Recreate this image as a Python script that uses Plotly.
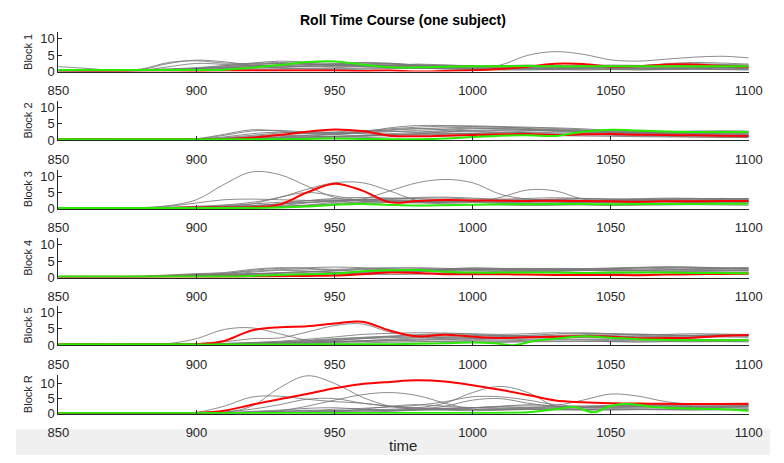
import plotly.graph_objects as go

# ---------------- data ----------------
TIME = [850, 860, 870, 880, 890, 900, 910, 920, 930, 940, 950, 960, 970,
        980, 990, 1000, 1010, 1020, 1030, 1040, 1050, 1060, 1070, 1080, 1090, 1100]
BLOCKS = ["Block 1", "Block 2", "Block 3", "Block 4", "Block 5", "Block R"]
X_TICKS = [850, 900, 950, 1000, 1050, 1100]
Y_TICKS = [0, 5, 10]

GRAY_1 = [
    [1.5,1.0,0.4,0.6,0.8,1.2,1.8,2.3,2.5,2.2,2.0,1.8,2.0,1.8,1.5,1.5,1.6,1.8,1.5,1.4,1.5,1.6,1.5,1.6,1.5,1.5],
    [0.3,0.3,0.3,0.6,2.5,3.5,3.0,2.0,1.8,1.5,1.6,1.8,1.6,1.5,1.3,1.3,1.4,1.2,1.3,1.2,1.2,1.3,1.2,1.3,1.2,1.2],
    [0.3,0.3,0.4,0.8,2.8,3.3,2.6,2.5,2.8,2.5,2.2,2.0,1.8,2.0,1.6,1.4,1.3,1.0,1.0,1.1,1.2,1.0,1.1,1.0,1.1,1.0],
    [0.3,0.3,0.3,0.5,0.8,1.0,1.5,2.0,2.5,2.3,2.0,2.2,2.5,2.0,1.5,1.5,2.0,5.0,6.1,5.3,3.6,3.2,3.8,4.4,4.7,4.2],
    [0.2,0.2,0.3,0.4,0.6,1.0,1.8,2.6,3.2,2.9,2.5,2.8,2.6,2.0,1.8,1.6,1.5,1.7,1.8,1.6,1.5,1.8,2.2,2.4,2.2,2.0],
    [0.3,0.3,0.3,0.3,0.5,0.8,1.2,1.5,1.8,2.0,2.0,2.3,2.0,1.5,1.2,1.0,0.8,0.8,1.0,1.2,1.0,0.9,1.0,1.2,1.3,1.2],
    [0.5,0.4,0.4,0.5,0.5,0.6,1.0,1.5,1.2,1.0,1.2,1.5,1.3,1.2,1.0,0.9,0.8,0.7,0.6,0.7,0.8,0.6,0.7,0.8,0.7,0.6],
    [0.3,0.3,0.3,0.3,0.4,0.5,0.7,1.0,1.3,1.6,1.8,1.5,1.3,1.5,1.8,1.5,1.2,1.0,1.2,1.4,1.6,1.8,2.4,2.8,2.6,2.3],
    [0.2,0.2,0.2,0.3,0.3,0.4,0.8,1.2,1.0,0.8,0.6,0.7,0.9,1.0,0.8,0.6,0.5,0.5,0.6,0.5,0.6,0.5,0.6,0.7,0.6,0.5],
    [0.3,0.3,0.3,0.4,1.5,2.5,2.2,1.8,1.5,1.8,2.4,2.6,2.3,2.0,2.0,1.8,1.8,2.0,1.8,1.6,1.4,1.5,1.6,1.8,1.7,1.6],
    [0.2,0.2,0.2,0.2,0.3,0.3,0.5,0.6,0.7,0.8,0.9,1.0,1.1,1.0,0.9,0.8,0.9,1.0,1.0,0.9,0.8,0.9,1.0,0.9,1.0,0.9],
    [0.4,0.3,0.3,0.4,0.6,0.9,1.3,1.8,2.1,2.4,1.9,1.6,1.9,2.3,2.0,1.7,1.5,1.4,1.6,1.9,2.0,1.9,1.7,1.8,2.0,1.9],
]
RED_1 = [0.3,0.2,0.1,0.3,0.3,0.2,0.3,0.3,0.3,0.3,0.3,0.2,0.3,0.0,0.2,0.4,0.8,1.5,2.4,2.3,1.5,1.6,2.2,2.2,1.8,1.5]
GREEN_1 = [0.5,0.5,0.5,0.5,0.5,0.5,0.6,1.2,2.0,2.9,3.1,2.2,1.3,1.3,1.5,1.6,1.6,1.7,1.6,1.6,1.6,1.6,1.6,1.6,1.6,1.6]

GRAY_2 = [
    [0.3,0.3,0.3,0.3,0.3,0.4,1.5,2.8,3.0,2.5,2.2,2.8,3.5,4.0,4.3,4.2,4.0,3.8,3.6,3.2,3.0,2.8,2.7,2.8,2.9,2.8],
    [0.3,0.3,0.3,0.3,0.3,0.5,1.8,3.2,2.8,2.0,1.8,2.5,3.8,4.5,4.5,4.4,4.2,4.0,3.8,3.5,3.0,2.8,2.6,2.5,2.4,2.5],
    [0.2,0.2,0.2,0.2,0.3,0.4,1.0,2.0,2.5,2.3,2.0,2.2,3.0,3.5,3.8,4.0,4.0,3.6,3.2,3.0,2.8,2.5,2.3,2.2,2.0,2.0],
    [0.3,0.3,0.3,0.3,0.3,0.3,0.6,1.2,1.8,2.0,2.5,3.0,2.8,2.5,3.0,3.5,3.6,3.4,3.0,2.6,2.4,2.2,2.0,1.8,1.7,1.6],
    [0.2,0.2,0.2,0.2,0.2,0.3,0.5,0.8,1.0,1.5,2.0,2.5,3.2,3.6,3.2,2.8,2.5,2.8,3.2,3.0,2.6,2.3,2.1,2.0,1.9,1.8],
    [0.3,0.3,0.3,0.3,0.3,0.3,0.4,0.6,0.8,1.0,1.2,1.5,2.0,2.4,2.6,2.8,3.0,3.2,3.0,2.7,2.5,2.3,2.5,2.7,2.6,2.4],
    [0.2,0.2,0.2,0.2,0.3,0.3,0.5,1.0,1.5,1.3,1.0,1.2,1.6,2.0,2.2,2.0,1.8,1.6,1.5,1.6,1.8,1.6,1.4,1.3,1.2,1.2],
    [0.3,0.3,0.3,0.3,0.3,0.3,0.3,0.4,0.6,0.9,1.2,1.4,1.5,1.8,2.0,2.2,2.4,2.3,2.0,1.8,1.5,1.3,1.2,1.0,0.9,0.8],
    [0.2,0.2,0.2,0.2,0.2,0.2,0.3,0.4,0.5,0.7,1.0,1.3,1.6,2.0,2.5,3.0,3.2,3.0,2.7,2.4,2.2,2.0,1.9,2.1,2.3,2.2],
    [0.3,0.3,0.3,0.3,0.3,0.4,0.8,1.5,2.2,2.6,2.4,2.0,1.8,1.6,1.8,2.0,2.2,2.4,2.3,2.1,1.9,1.8,1.7,1.6,1.5,1.5],
    [0.2,0.2,0.2,0.2,0.2,0.2,0.3,0.3,0.4,0.5,0.6,0.8,1.0,1.2,1.3,1.4,1.5,1.5,1.4,1.3,1.2,1.1,1.0,1.0,0.9,0.9],
    [0.3,0.3,0.3,0.3,0.3,0.3,0.5,0.7,1.0,1.3,1.7,2.2,2.6,3.0,3.4,3.7,3.5,3.2,2.9,2.6,2.4,2.3,2.2,2.1,2.2,2.3],
]
RED_2 = [0.3,0.4,0.3,0.3,0.3,0.3,0.4,0.8,1.6,2.6,3.3,2.8,1.4,1.2,1.4,1.6,1.8,1.9,1.6,1.8,1.9,1.7,1.6,1.5,1.4,1.3]
GREEN_2 = [0.3,0.3,0.3,0.3,0.3,0.3,0.3,0.3,0.3,0.4,0.5,0.4,0.3,0.3,0.5,1.0,1.4,1.5,1.3,2.6,3.2,3.0,2.7,2.5,2.5,2.5]

GRAY_3 = [
    [0.3,0.3,0.3,0.4,1.0,2.8,7.5,11.3,10.5,7.0,3.5,2.5,2.8,2.5,2.3,2.5,2.4,2.3,2.5,2.4,2.3,2.5,2.4,2.3,2.4,2.5],
    [0.3,0.3,0.3,0.3,0.5,0.8,1.2,2.0,3.5,6.0,8.0,8.0,5.5,2.5,2.0,2.2,2.0,2.1,2.3,2.2,2.0,2.1,2.2,2.0,2.1,2.2],
    [0.3,0.3,0.3,0.3,0.3,0.5,0.8,1.0,1.5,2.0,2.5,3.0,5.5,8.0,9.0,8.0,4.5,3.0,2.8,2.5,2.6,2.8,2.7,2.6,2.7,2.8],
    [0.3,0.3,0.3,0.3,0.4,0.6,1.0,1.5,2.0,2.5,2.8,2.5,2.3,2.0,1.8,2.0,3.5,5.8,5.5,3.0,2.5,2.6,2.7,2.8,2.9,3.0],
    [0.3,0.3,0.3,0.3,0.8,1.8,2.8,3.0,2.8,2.6,2.5,2.8,3.0,3.2,3.3,3.0,2.8,2.6,2.8,3.0,2.9,3.0,3.1,3.2,3.0,3.1],
    [0.3,0.3,0.3,0.3,0.3,0.5,0.8,1.5,3.5,5.0,4.0,2.5,2.0,1.8,2.0,2.2,2.0,1.8,1.9,2.0,1.9,2.0,2.1,2.0,1.9,2.0],
    [0.3,0.3,0.3,0.3,0.3,0.4,0.5,0.8,1.5,2.5,3.2,3.5,3.3,3.0,2.8,2.6,2.5,2.7,3.0,3.2,3.0,2.8,2.9,3.0,3.2,3.0],
    [0.2,0.2,0.2,0.2,0.3,0.3,0.4,0.6,1.0,1.8,2.5,3.0,2.5,2.0,1.5,1.3,1.5,1.8,1.6,1.4,1.5,1.7,1.6,1.5,1.6,1.7],
    [0.3,0.3,0.3,0.3,0.3,0.3,0.4,0.5,0.8,1.2,2.0,2.8,3.2,3.5,3.6,3.3,3.0,3.2,3.4,3.2,3.0,3.1,3.3,3.2,3.1,3.2],
    [0.3,0.3,0.3,0.3,0.3,0.4,0.6,1.0,1.5,2.0,2.2,2.0,1.2,1.0,1.1,1.3,1.2,1.0,1.1,1.2,1.0,1.1,1.2,1.3,1.2,1.1],
    [0.2,0.2,0.2,0.2,0.2,0.3,0.3,0.4,0.6,1.0,1.6,2.2,2.6,2.4,2.2,2.0,1.8,1.6,1.8,2.0,2.2,2.4,2.2,2.0,2.2,2.4],
    [0.3,0.3,0.3,0.3,0.3,0.3,0.4,0.5,0.7,1.0,1.4,1.8,2.0,2.2,2.3,2.4,2.6,2.8,2.6,2.5,2.6,2.7,2.8,2.6,2.5,2.6],
]
RED_3 = [0.3,0.3,0.2,0.2,0.3,0.4,0.4,0.5,1.3,5.0,7.7,5.6,2.0,2.4,2.7,2.6,2.5,2.4,2.5,2.4,2.3,2.2,2.3,2.3,2.4,2.4]
GREEN_3 = [0.3,0.3,0.3,0.3,0.3,0.3,0.3,0.3,0.4,0.7,1.3,1.5,1.2,1.0,1.1,1.3,1.4,1.4,1.5,1.5,1.4,1.5,1.5,1.5,1.6,1.6]

GRAY_4 = [
    [0.3,0.3,0.3,0.4,0.8,1.2,1.5,2.5,3.0,2.8,2.5,2.8,3.0,2.8,2.6,2.5,2.7,2.8,2.6,2.5,2.7,2.9,3.0,2.8,2.7,2.8],
    [0.3,0.3,0.3,0.3,0.5,0.8,1.2,2.2,2.8,3.0,3.2,3.0,2.6,2.4,2.5,2.6,2.5,2.3,2.5,2.6,2.8,3.0,3.2,3.1,2.9,2.8],
    [0.2,0.2,0.2,0.3,0.6,1.0,1.0,1.2,1.5,1.8,2.2,2.6,2.3,2.0,2.2,2.4,2.2,2.0,2.1,2.2,2.0,2.1,2.3,2.4,2.3,2.2],
    [0.3,0.3,0.3,0.3,0.4,0.6,0.8,1.0,1.3,1.6,2.0,2.4,2.8,3.0,2.8,2.6,2.4,2.6,2.8,2.7,2.5,2.3,2.4,2.5,2.6,2.5],
    [0.2,0.2,0.2,0.2,0.3,0.5,0.8,1.2,1.0,0.9,1.0,1.3,1.6,1.8,1.6,1.4,1.5,1.7,1.8,1.6,1.5,1.6,1.7,1.8,1.7,1.6],
    [0.3,0.3,0.3,0.3,0.4,0.7,1.0,1.6,2.2,2.0,1.5,1.2,1.5,1.9,2.1,2.0,1.8,1.9,2.0,2.2,2.1,2.0,1.9,2.0,2.1,2.0],
    [0.2,0.2,0.2,0.2,0.3,0.4,0.5,0.7,0.9,1.2,1.5,1.7,1.9,2.2,2.5,2.7,2.6,2.4,2.2,2.3,2.5,2.6,2.8,3.0,2.8,2.6],
    [0.3,0.3,0.3,0.3,0.3,0.4,0.5,0.6,0.8,1.0,1.2,1.0,0.9,1.0,1.2,1.1,1.0,0.9,1.0,1.1,1.2,1.0,0.9,1.0,1.1,1.0],
    [0.2,0.2,0.2,0.3,0.5,0.9,1.3,1.9,2.4,2.6,2.2,1.8,2.0,2.3,2.4,2.2,2.0,2.1,2.3,2.2,2.1,2.2,2.3,2.2,2.1,2.2],
    [0.3,0.3,0.3,0.3,0.3,0.3,0.4,0.5,0.6,0.8,1.0,1.4,1.8,2.0,1.8,1.6,1.4,1.5,1.6,1.5,1.4,1.5,1.6,1.7,1.6,1.5],
    [0.2,0.2,0.2,0.2,0.3,0.5,0.7,1.0,1.4,1.8,1.6,1.4,1.6,2.0,2.6,3.0,2.8,2.6,2.5,2.7,2.9,3.1,3.3,3.2,3.0,3.1],
]
RED_4 = [0.2,0.2,0.2,0.2,0.2,0.2,0.2,0.3,0.4,0.5,0.6,1.0,1.5,1.4,1.0,1.0,1.0,0.9,0.8,0.8,0.8,0.7,0.9,1.0,1.1,1.2]
GREEN_4 = [0.3,0.3,0.3,0.3,0.3,0.3,0.3,0.5,0.8,1.0,1.2,1.9,2.2,2.3,1.8,1.5,1.5,1.5,1.5,1.4,1.5,1.5,1.5,1.4,1.4,1.3]

GRAY_5 = [
    [0.3,0.3,0.3,0.3,0.5,2.0,4.8,5.3,3.5,1.5,1.0,1.3,1.8,2.2,2.0,1.8,1.6,1.8,2.0,1.8,1.7,1.8,1.9,1.8,1.7,1.8],
    [0.3,0.3,0.3,0.3,0.3,0.5,1.0,2.0,2.2,4.0,6.0,6.5,4.0,2.8,2.6,2.8,3.0,2.8,2.6,2.8,3.0,3.2,3.0,2.8,2.9,3.0],
    [0.2,0.2,0.2,0.2,0.2,0.3,0.5,0.8,1.2,1.8,2.5,3.3,3.6,3.8,3.7,3.5,3.3,3.5,3.8,3.6,3.4,3.2,3.3,3.5,3.4,3.3],
    [0.3,0.3,0.3,0.3,0.3,0.3,0.4,0.6,0.9,1.3,1.8,2.3,2.8,3.2,3.5,3.3,3.0,2.8,3.0,3.2,3.5,3.4,3.2,3.0,3.1,3.2],
    [0.2,0.2,0.2,0.2,0.2,0.2,0.3,0.5,0.8,1.2,1.6,2.0,2.3,2.5,2.3,2.1,2.0,2.2,2.4,2.3,2.1,2.0,2.2,2.4,2.5,2.4],
    [0.3,0.3,0.3,0.3,0.3,0.3,0.3,0.4,0.6,0.9,1.2,1.4,1.6,1.8,1.6,1.4,1.3,1.5,1.7,1.6,1.4,1.5,1.6,1.7,1.6,1.5],
    [0.2,0.2,0.2,0.2,0.2,0.3,0.3,0.4,0.5,0.7,0.9,1.1,1.3,1.5,1.7,2.0,2.2,2.4,2.6,2.8,2.7,2.5,2.4,2.6,2.8,2.7],
    [0.3,0.3,0.3,0.3,0.3,0.3,0.4,0.5,0.6,0.8,1.0,1.2,1.4,1.2,1.0,0.9,1.0,1.2,1.3,1.2,1.1,1.0,1.1,1.2,1.1,1.0],
    [0.2,0.2,0.2,0.2,0.2,0.2,0.3,0.4,0.6,0.9,1.4,2.0,2.6,3.0,3.2,3.0,2.7,2.5,2.7,2.9,2.8,2.6,2.7,2.9,3.0,2.9],
    [0.3,0.3,0.3,0.3,0.3,0.3,0.3,0.3,0.4,0.5,0.6,0.7,0.9,1.0,1.1,1.0,0.9,1.0,1.1,1.2,1.1,1.0,1.1,1.0,1.1,1.2],
    [0.2,0.2,0.2,0.2,0.2,0.3,0.5,0.8,1.0,1.5,2.0,2.4,2.6,2.4,2.2,2.4,2.6,3.0,3.4,3.8,3.5,3.0,2.8,3.0,3.2,3.1],
]
RED_5 = [0.3,0.3,0.2,0.3,0.3,0.3,1.3,4.5,5.5,5.8,6.6,7.2,4.5,2.7,3.2,2.6,2.2,2.4,2.6,2.7,2.6,2.1,2.2,2.3,2.8,3.1]
GREEN_5_TIME = [850, 860, 870, 880, 890, 900, 910, 920, 930, 940, 950, 960, 970, 980, 990, 1000,
                1008, 1015, 1022, 1030, 1040, 1050, 1060, 1070, 1080, 1090, 1100]
GREEN_5 = [0.3,0.3,0.3,0.3,0.3,0.2,0.2,0.2,0.2,0.2,0.3,0.3,0.3,0.4,0.6,0.8,
           0.6,0.0,1.3,2.0,2.7,2.3,1.8,1.6,1.5,1.5,1.5]

GRAY_6 = [
    [0.3,0.3,0.3,0.3,0.3,0.3,0.5,2.5,8.5,12.5,10.0,5.5,2.5,1.5,1.2,1.0,1.2,1.5,1.3,1.2,1.3,1.4,1.3,1.2,1.3,1.4],
    [0.3,0.3,0.3,0.3,0.3,0.5,2.5,5.5,5.8,4.8,4.0,3.5,2.5,1.8,1.5,1.3,1.4,1.6,1.5,1.4,1.5,1.6,1.5,1.4,1.5,1.6],
    [0.3,0.3,0.3,0.3,0.3,0.3,0.6,1.5,3.0,4.8,5.0,3.5,2.5,2.0,1.8,2.0,2.2,2.0,1.8,1.9,2.0,2.2,2.3,2.2,2.1,2.2],
    [0.3,0.3,0.3,0.3,0.3,0.3,0.3,0.5,1.0,2.5,4.5,6.3,7.0,6.0,3.5,1.5,1.3,1.4,1.5,1.4,1.3,1.4,1.5,1.6,1.5,1.4],
    [0.3,0.3,0.3,0.3,0.3,0.3,0.3,0.4,0.5,0.7,1.0,1.2,1.5,2.0,3.5,7.0,9.0,7.0,2.5,2.0,2.2,2.4,2.5,2.4,2.3,2.5],
    [0.3,0.3,0.3,0.3,0.3,0.3,0.4,0.6,0.8,1.0,1.5,1.8,2.2,2.8,4.0,5.6,5.6,4.5,3.0,2.5,2.6,2.8,2.9,3.0,2.9,2.8],
    [0.3,0.3,0.3,0.3,0.3,0.3,0.3,0.4,0.5,0.6,0.8,1.0,1.2,1.5,1.8,2.0,2.5,3.0,2.8,4.5,6.5,5.8,4.0,3.2,3.0,3.0],
    [0.3,0.3,0.3,0.3,0.3,0.3,0.4,0.8,1.2,1.8,2.0,1.5,1.2,1.5,2.5,4.5,5.0,3.5,2.5,2.3,2.5,2.6,2.8,2.7,2.6,2.7],
    [0.2,0.2,0.2,0.2,0.2,0.2,0.3,0.5,0.8,1.2,1.0,1.5,2.5,3.0,2.5,2.0,1.8,2.0,2.3,2.5,2.8,3.0,3.2,3.1,3.0,3.1],
    [0.3,0.3,0.3,0.3,0.3,0.3,0.3,0.4,0.5,0.4,0.3,0.5,0.8,1.2,1.6,2.0,2.4,2.6,2.3,2.0,1.8,1.9,2.0,2.1,2.0,1.9],
    [0.2,0.2,0.2,0.2,0.2,0.2,0.2,0.3,0.4,0.5,0.7,0.9,1.0,1.2,1.4,1.5,1.6,1.8,2.0,2.2,2.5,2.4,2.2,2.3,2.4,2.5],
]
RED_6 = [0.3,0.2,0.3,0.2,0.3,0.3,1.0,3.0,4.8,6.5,8.4,9.8,10.5,11.0,10.6,9.4,7.9,6.2,4.4,3.8,3.5,3.4,3.3,3.2,3.2,3.3]
GREEN_6_TIME = [850, 860, 870, 880, 890, 900, 910, 920, 930, 940, 950, 960, 970, 980, 990, 1000,
                1010, 1020, 1030, 1037, 1044, 1050, 1056, 1065, 1075, 1090, 1100]
GREEN_6 = [0.3,0.3,0.3,0.3,0.3,0.3,0.3,0.3,0.3,0.3,0.3,0.3,0.3,0.3,0.3,0.3,
           0.3,0.5,1.5,2.2,0.5,2.6,3.3,2.3,1.8,1.5,1.0]

GRAYS = [GRAY_1, GRAY_2, GRAY_3, GRAY_4, GRAY_5, GRAY_6]
REDS = [RED_1, RED_2, RED_3, RED_4, RED_5, RED_6]
GREENS = [(TIME, GREEN_1), (TIME, GREEN_2), (TIME, GREEN_3), (TIME, GREEN_4),
          (GREEN_5_TIME, GREEN_5), (GREEN_6_TIME, GREEN_6)]
Y_MAX = [12, 12, 12, 12, 12, 12.9]

# ---------------- layout geometry (pixels) ----------------
W, H = 784, 463
PANELS = [(32, 72), (102, 142), (172, 212), (242, 282), (311, 351), (381, 421)]
X_LEFT, X_RIGHT = 49, 762
FONT = "Liberation Sans, Arial, Helvetica, sans-serif"
AXC = "#262626"

fig = go.Figure()
layout = dict(
    width=W, height=H, margin=dict(l=0, r=0, t=0, b=0),
    paper_bgcolor="white", plot_bgcolor="white", showlegend=False,
    font=dict(family=FONT, color=AXC),
)
annotations = []

for i in range(6):
    n = "" if i == 0 else str(i + 1)
    xa, ya = "x" + n, "y" + n
    for g in GRAYS[i]:
        fig.add_trace(go.Scatter(x=TIME, y=g, mode="lines", xaxis=xa, yaxis=ya,
                                 line=dict(color="rgba(120,120,120,0.85)", width=1, shape="spline"),
                                 hoverinfo="skip"))
    fig.add_trace(go.Scatter(x=TIME, y=REDS[i], mode="lines", xaxis=xa, yaxis=ya,
                             line=dict(color="#ff0000", width=2, shape="spline")))
    gt, gv = GREENS[i]
    fig.add_trace(go.Scatter(x=gt, y=gv, mode="lines", xaxis=xa, yaxis=ya,
                             line=dict(color="rgb(40,235,0)", width=2, shape="spline")))

    top, bot = PANELS[i]
    layout["xaxis" + n] = dict(
        domain=[X_LEFT / W, X_RIGHT / W], anchor=ya, range=[850, 1100],
        tickvals=X_TICKS, ticks="inside", ticklen=4, tickcolor=AXC, tickwidth=1,
        showline=True, linecolor=AXC, linewidth=1, showgrid=False, zeroline=False,
        tickfont=dict(size=13, color=AXC, family=FONT), ticklabelstandoff=7,
    )
    layout["yaxis" + n] = dict(
        domain=[1 - bot / H, 1 - top / H], anchor=xa, range=[0, Y_MAX[i]],
        tickvals=Y_TICKS, ticks="inside", ticklen=4, tickcolor=AXC, tickwidth=1,
        showline=True, linecolor=AXC, linewidth=1, showgrid=False, zeroline=False,
        tickfont=dict(size=13, color=AXC, family=FONT),
    )
    annotations.append(dict(
        text=BLOCKS[i], xref="paper", yref="paper", x=17.5 / W, y=1 - (top + bot) / 2 / H,
        textangle=-90, showarrow=False, font=dict(size=11, color=AXC, family=FONT),
        xanchor="center", yanchor="middle"))

annotations.append(dict(
    text="<b>Roll Time Course (one subject)</b>", xref="paper", yref="paper",
    x=405 / W, y=1 - 19 / H, showarrow=False, xanchor="center", yanchor="middle",
    font=dict(size=14, color="black", family=FONT)))
annotations.append(dict(
    text="time", xref="paper", yref="paper", x=405 / W, y=1 - 453 / H,
    showarrow=False, xanchor="center", yanchor="middle",
    font=dict(size=15, color=AXC, family=FONT)))

layout["annotations"] = annotations
layout["shapes"] = [dict(type="rect", xref="paper", yref="paper", x0=5 / W, x1=1,
                         y0=0, y1=(H - 437) / H, fillcolor="#f0f0f0",
                         line=dict(width=0), layer="below")]
fig.update_layout(**layout)
fig.write_html("out.html")
